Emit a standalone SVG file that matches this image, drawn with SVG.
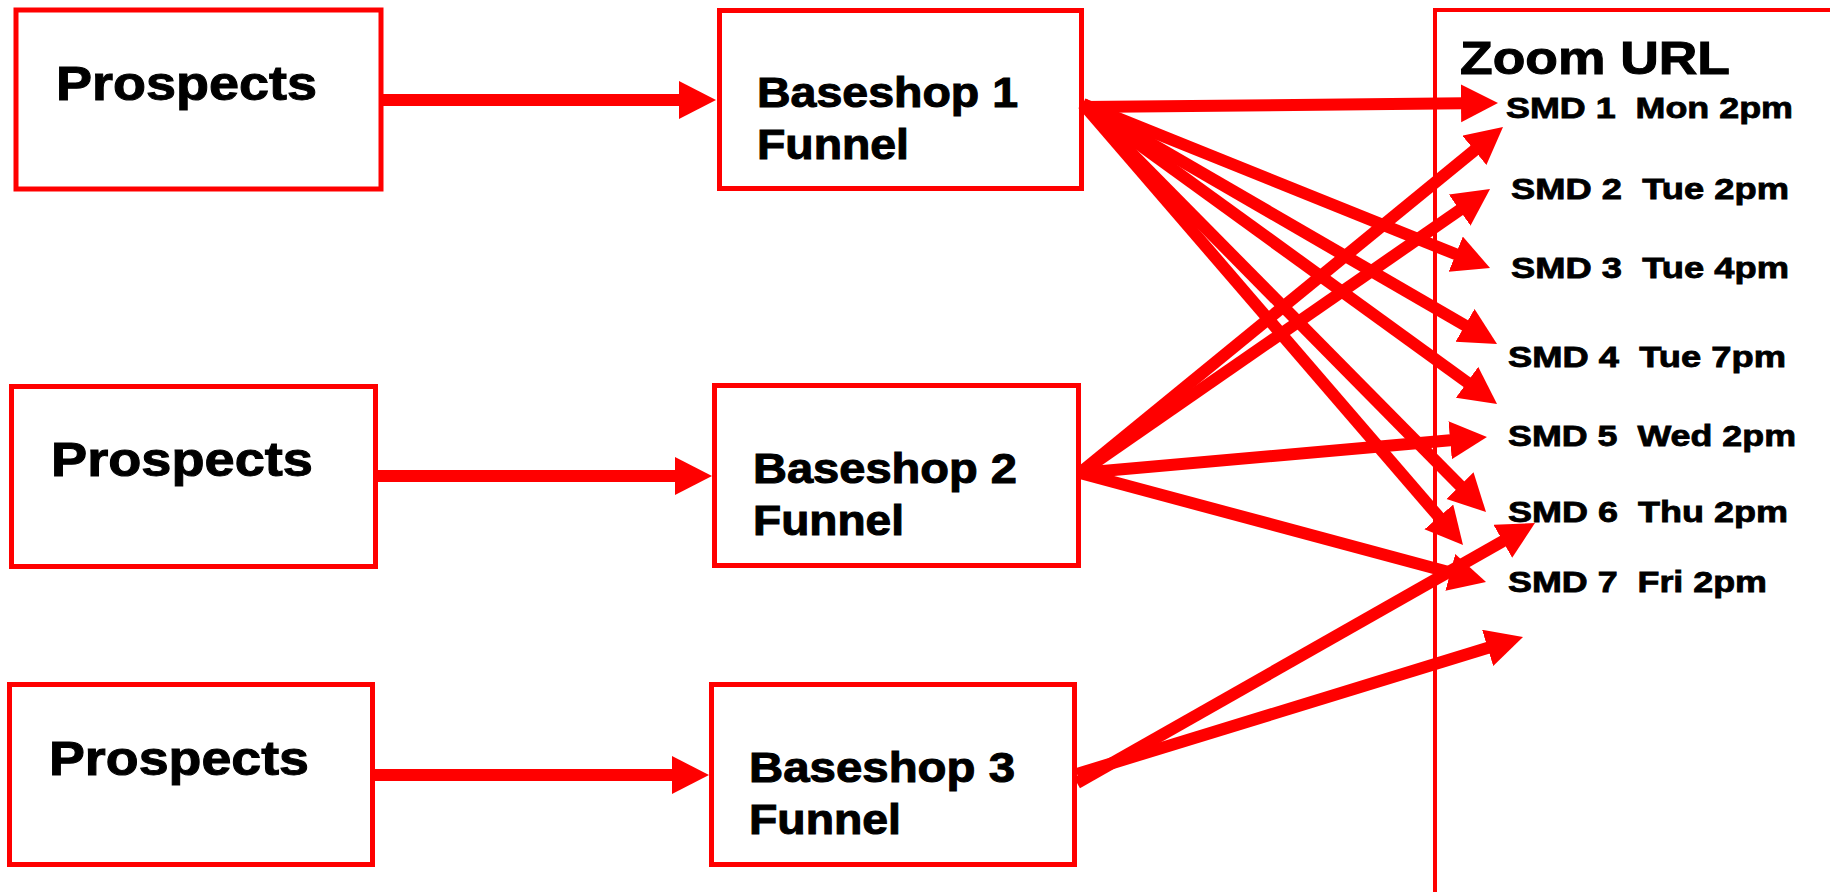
<svg xmlns="http://www.w3.org/2000/svg" width="1830" height="892" viewBox="0 0 1830 892">
<style>
.box{fill:#fff;stroke:#ff0000;stroke-width:5}
.zbox{fill:none;stroke:#ff0000;stroke-width:4}
.t{font-family:"Liberation Sans",Arial,sans-serif;font-weight:bold;fill:#000;stroke:#000;stroke-width:1}
.p{font-size:49px}
.b{font-size:42px}
.z{font-size:47px}
.s{font-size:29px;stroke-width:0.8}
.c{stroke:#ff0000;stroke-width:12;fill:none}
</style>
<defs>
<marker id="ah" markerUnits="userSpaceOnUse" markerWidth="40" markerHeight="40" refX="3" refY="19" orient="auto">
<path d="M0,0 L37,19 L0,38 Z" fill="#ff0000"/>
</marker>
</defs>
<rect width="1830" height="892" fill="#fff"/>
<g id="zoom-url">
<rect class="zbox" x="1435" y="10" width="600" height="1000"/>
<text class="t z" x="1460" y="74" textLength="270" lengthAdjust="spacingAndGlyphs">Zoom URL</text>
<text class="t s" x="1506" y="118" textLength="287" lengthAdjust="spacingAndGlyphs" xml:space="preserve">SMD 1  Mon 2pm</text>
<text class="t s" x="1511" y="199" textLength="278" lengthAdjust="spacingAndGlyphs" xml:space="preserve">SMD 2  Tue 2pm</text>
<text class="t s" x="1511" y="278" textLength="278" lengthAdjust="spacingAndGlyphs" xml:space="preserve">SMD 3  Tue 4pm</text>
<text class="t s" x="1508" y="367" textLength="278" lengthAdjust="spacingAndGlyphs" xml:space="preserve">SMD 4  Tue 7pm</text>
<text class="t s" x="1508" y="446" textLength="288" lengthAdjust="spacingAndGlyphs" xml:space="preserve">SMD 5  Wed 2pm</text>
<text class="t s" x="1508" y="522" textLength="280" lengthAdjust="spacingAndGlyphs" xml:space="preserve">SMD 6  Thu 2pm</text>
<text class="t s" x="1508" y="592" textLength="259" lengthAdjust="spacingAndGlyphs" xml:space="preserve">SMD 7  Fri 2pm</text>
</g>
<g id="prospects-1">
<rect class="box" x="16" y="10" width="365" height="179"/>
<text class="t p" x="56" y="100" textLength="261" lengthAdjust="spacingAndGlyphs">Prospects</text>
</g>
<g id="prospects-2">
<rect class="box" x="11.5" y="386.5" width="364" height="180"/>
<text class="t p" x="51" y="476" textLength="262" lengthAdjust="spacingAndGlyphs">Prospects</text>
</g>
<g id="prospects-3">
<rect class="box" x="9.5" y="684.5" width="363" height="180"/>
<text class="t p" x="49" y="775" textLength="260" lengthAdjust="spacingAndGlyphs">Prospects</text>
</g>
<g id="baseshop-1">
<rect class="box" x="719.5" y="10.5" width="362" height="178"/>
<text class="t b" x="757" y="107" textLength="261" lengthAdjust="spacingAndGlyphs">Baseshop 1</text>
<text class="t b" x="757" y="159" textLength="152" lengthAdjust="spacingAndGlyphs">Funnel</text>
</g>
<g id="baseshop-2">
<rect class="box" x="714.5" y="385.5" width="364" height="180"/>
<text class="t b" x="753" y="483" textLength="264" lengthAdjust="spacingAndGlyphs">Baseshop 2</text>
<text class="t b" x="753" y="535" textLength="151" lengthAdjust="spacingAndGlyphs">Funnel</text>
</g>
<g id="baseshop-3">
<rect class="box" x="711.5" y="684.5" width="363" height="180"/>
<text class="t b" x="749" y="782" textLength="266" lengthAdjust="spacingAndGlyphs">Baseshop 3</text>
<text class="t b" x="749" y="834" textLength="152" lengthAdjust="spacingAndGlyphs">Funnel</text>
</g>
<g id="connectors">
<line class="c" x1="383" y1="100" x2="682" y2="100" marker-end="url(#ah)"/>
<line class="c" x1="377" y1="476" x2="678" y2="476" marker-end="url(#ah)"/>
<line class="c" x1="375" y1="775" x2="675" y2="775" marker-end="url(#ah)"/>
<line class="c" x1="1083" y1="107" x2="1464" y2="103.3" marker-end="url(#ah)"/>
<line class="c" x1="1083" y1="104" x2="1458.5" y2="255.3" marker-end="url(#ah)"/>
<line class="c" x1="1083" y1="104" x2="1467.6" y2="326.9" marker-end="url(#ah)"/>
<line class="c" x1="1083" y1="104" x2="1469.5" y2="384" marker-end="url(#ah)"/>
<line class="c" x1="1083" y1="104" x2="1462.1" y2="487.8" marker-end="url(#ah)"/>
<line class="c" x1="1083" y1="104" x2="1440.8" y2="519.2" marker-end="url(#ah)"/>
<line class="c" x1="1080" y1="473" x2="1476.7" y2="148.5" marker-end="url(#ah)"/>
<line class="c" x1="1080" y1="473" x2="1462.1" y2="208.4" marker-end="url(#ah)"/>
<line class="c" x1="1080" y1="473" x2="1453.1" y2="440" marker-end="url(#ah)"/>
<line class="c" x1="1080" y1="473" x2="1453.2" y2="573.2" marker-end="url(#ah)"/>
<line class="c" x1="1077" y1="783" x2="1505.4" y2="539.8" marker-end="url(#ah)"/>
<line class="c" x1="1077" y1="774" x2="1490.5" y2="647" marker-end="url(#ah)"/>
</g>
</svg>
